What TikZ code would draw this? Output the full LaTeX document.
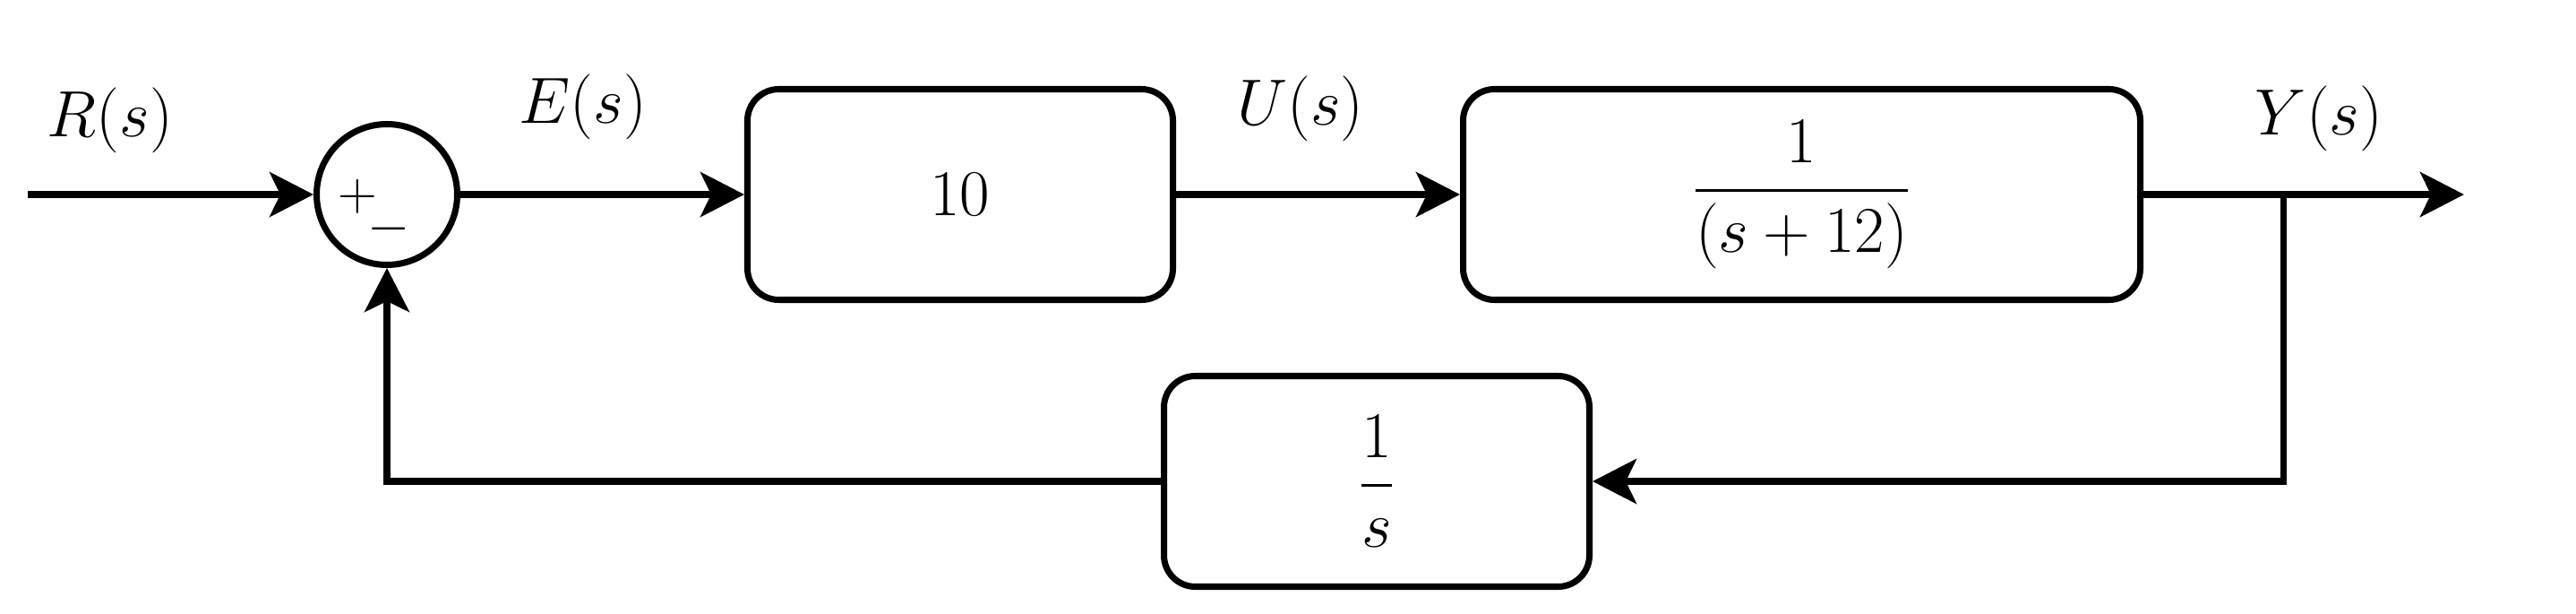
\documentclass[tikz,border=0pt]{standalone}
\usepackage{amsmath}
\usetikzlibrary{arrows.meta}

\begin{document}
\begin{tikzpicture}[
    line width=2pt,
    font=\fontsize{22}{26}\selectfont,
    block/.style={draw, rounded corners=0.35cm, minimum width=4.75cm,
      minimum height=2.35cm, inner sep=0pt},
    sumnode/.style={draw, circle, minimum size=1.57cm, inner sep=0pt},
    sig/.style={-{Stealth[length=0.49cm, width=0.5cm, inset=0.12cm]}}
  ]

    \useasboundingbox (0, 0) rectangle (28.76, -6.84);

    \coordinate (RS) at (0.31, -2.17);
    \coordinate (BR) at (25.49, -2.17);
    \coordinate (YS) at (27.51, -2.17);

    \node[sumnode] (sum) at (4.32, -2.17) {};
    \node[block] (ctrl) at (10.72, -2.17) {$10$};
    \node[block, minimum width=7.56cm] (plant) at (20.115, -2.17)
    {$\dfrac{1}{(s+12)}$};
    \node[block] (fb) at (15.37, -5.37) {$\dfrac{1}{s}$};

    \node[inner sep=0pt, font=\fontsize{17}{20}\selectfont] (sign)
    at ([xshift=-0.14cm, yshift=-0.21cm]sum.center)
    {$+$\kern-0.18em\raisebox{-0.6em}{$-$}};

    \draw[sig] (RS) -- (sum.west);
    \draw[sig] (sum.east) -- (ctrl.west);
    \draw[sig] (ctrl.east) -- (plant.west);
    \draw (plant.east) -- (BR);
    \draw[sig] (BR) -- (YS);
    \draw[sig] (BR) |- (fb.east);
    \draw[sig] (fb.west) -| (sum.south);

    \coordinate (RT) at (1.23, -1.34);
    \coordinate (ET) at (6.51, -1.19);
    \coordinate (UT) at (14.52, -1.21);
    \coordinate (YT) at (25.89, -1.32);

    \node (rlabel) at (RT) {$R(s)$};
    \node (elabel) at (ET) {$E(s)$};
    \node (ulabel) at (UT) {$U(s)$};
    \node (ylabel) at (YT) {$Y(s)$};

  \end{tikzpicture}
\end{document}
